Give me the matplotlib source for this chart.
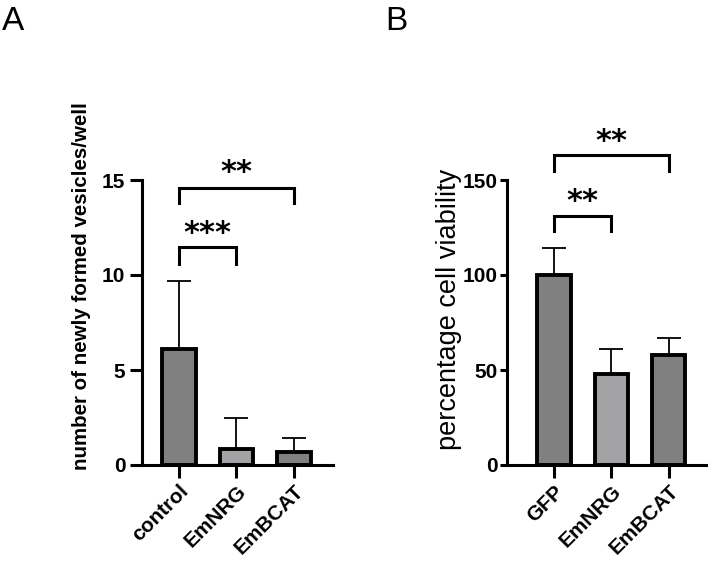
import numpy as np
import matplotlib
matplotlib.use("Agg")
import matplotlib.pyplot as plt

plt.rcParams['font.family'] = ['Liberation Sans', 'DejaVu Sans']

# Panel A data
cats_a = ['control', 'EmNRG', 'EmBCAT']
mean_a = [6.1, 0.85, 0.7]
sd_a = [3.6, 1.65, 0.7]

# Panel B data
cats_b = ['GFP', 'EmNRG', 'EmBCAT']
mean_b = [100, 48, 58]
sd_b = [14, 13, 9]

# bar colours: dark, light, dark
colors = ['#808080', '#a3a3a6', '#808080']

# significance brackets: (i, j, bar height, tick bottom, star centre, label)
sig_a = [(0, 1, 11.5, 10.6, 12.2, '***'), (0, 2, 14.6, 13.8, 15.4, '**')]
sig_b = [(0, 1, 131, 123, 138.5, '**'), (0, 2, 163, 155, 170.5, '**')]

fig = plt.figure(figsize=(7.08, 5.63), dpi=100)
ax_a = fig.add_axes([142/708, 1-465/563, 191/708, 285/563])
ax_b = fig.add_axes([506.7/708, 1-465/563, 199.3/708, 285/563])


def panel(ax, cats, means, sds, ymax, step, xlim, ylabel, ylabel_weight,
          ylabel_size, ylabel_pos, ytick_len, ytick_pad, sigs):
    x = np.arange(len(cats))
    ax.errorbar(x, means, yerr=[np.zeros(len(sds)), sds], fmt='none',
                ecolor='black', elinewidth=1.3, capsize=8.5, capthick=1.3, zorder=1)
    ax.bar(x, means, width=0.58, color=colors, edgecolor='black', linewidth=2.8, zorder=2)
    ax.set_xlim(*xlim)
    ax.set_ylim(0, ymax)
    ax.set_yticks(np.arange(0, ymax + 1, step))
    ax.set_xticks(x)
    ax.set_xticklabels(cats, rotation=45, ha='right', rotation_mode='anchor')
    for s in ['top', 'right']:
        ax.spines[s].set_visible(False)
    for s in ['left', 'bottom']:
        ax.spines[s].set_linewidth(2.2)
    ax.tick_params(width=2.2, labelsize=15)
    ax.tick_params(axis='y', length=ytick_len, pad=ytick_pad)
    ax.tick_params(axis='x', length=9, pad=3)
    for lab in ax.get_xticklabels() + ax.get_yticklabels():
        lab.set_fontweight('bold')
    ax.set_ylabel(ylabel, fontsize=ylabel_size, fontweight=ylabel_weight)
    ax.yaxis.set_label_coords(*ylabel_pos)
    for i, j, h, lo, sy, txt in sigs:
        ax.plot([i, i, j, j], [lo, h, h, lo], color='black', lw=2.2, clip_on=False,
                solid_joinstyle='miter')
        ax.text((i + j) / 2, sy, txt, ha='center', va='center', clip_on=False,
                fontsize=22, fontweight='bold', family='DejaVu Sans')


panel(ax_a, cats_a, mean_a, sd_a, 15, 5, (-0.643, 2.678),
      'number of newly formed vesicles/well', 'bold', 14.8, (-0.265, 0.628),
      9, 3, sig_a)
panel(ax_b, cats_b, mean_b, sd_b, 150, 50, (-0.825, 2.65),
      'percentage cell viability', 'normal', 19.5, (-0.225, 0.545),
      5, 1.5, sig_b)

fig.text(0.003, 0.99, 'A', fontsize=24, va='top', ha='left')
fig.text(385/708, 0.99, 'B', fontsize=24, va='top', ha='left')

fig.savefig('out.png', dpi=100)
